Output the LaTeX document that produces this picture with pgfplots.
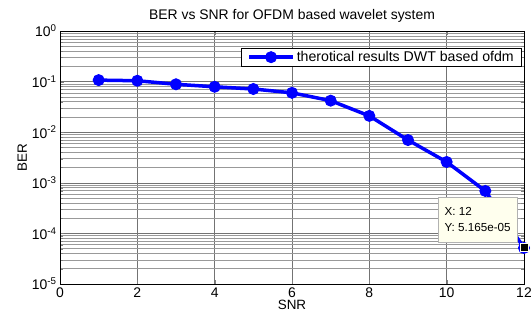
\documentclass[border=0pt]{standalone}
\usepackage{pgfplots}
\pgfplotsset{compat=1.18}
\usepackage{fontspec}
\setmainfont{Liberation Sans}
\definecolor{tipbg}{RGB}{255,255,238}
\begin{document}
\begin{tikzpicture}
\begin{axis}[
  at={(60bp,42bp)}, anchor=south west,
  scale only axis, width=464bp, height=253bp,
  ymode=log,
  xmin=0, xmax=12, ymin=1e-5, ymax=1,
  xtick={0,2,4,6,8,10,12},
  xticklabels={0,2,4,6,8,10,12},
  ytick={1e-5,1e-4,1e-3,1e-2,1e-1,1},
  yticklabels={10\textsuperscript{-5},10\textsuperscript{-4},10\textsuperscript{-3},10\textsuperscript{-2},10\textsuperscript{-1},10\textsuperscript{0}},
  tick label style={font=\fontsize{14}{16}\selectfont},
  label style={font=\fontsize{13.5}{15}\selectfont},
  title style={font=\fontsize{14}{16}\selectfont, yshift=-1bp},
  title={BER vs SNR for OFDM based wavelet system},
  xlabel={SNR}, ylabel={BER},
  xlabel style={yshift=4bp},
  ylabel style={yshift=-2bp},
  grid=both,
  major grid style={black!55, line width=0.6pt},
  minor grid style={black!40, line width=0.55pt},
  tick align=inside,
  legend style={at={(0.996,0.933)}, anchor=north east, draw=black, line width=0.7pt,
    font=\fontsize{14.2}{16}\selectfont, inner xsep=6bp, inner ysep=1bp, row sep=0pt},
  legend cell align=left,
  legend image code/.code={%
    \draw[#1, mark=none] (0bp,0bp) -- (44bp,0bp);
    \draw[#1, only marks] plot coordinates {(22bp,0bp)};},
]
\addplot[color=blue, line width=3.5bp, mark=*, mark size=5.5bp, mark options={fill=blue, line width=1pt}]
 coordinates {
 (1,0.107) (2,0.104) (3,0.0885) (4,0.079) (5,0.0714) (6,0.060)
 (7,0.042) (8,0.021) (9,0.0070) (10,0.00258) (11,0.00069) (12,5.165e-5)
 };
\addlegendentry{therotical results DWT based ofdm}
\addplot[only marks, mark=square*, mark size=4bp, mark options={fill=black, draw=tipbg, line width=1pt}, forget plot]
 coordinates {(12,5.165e-5)};
\coordinate (tip) at (rel axis cs:0.90,0.255);
\end{axis}
\node[draw=black!30, fill=tipbg, line width=0.5pt, minimum width=79bp, minimum height=45bp,
  align=left, inner sep=3bp, font=\fontsize{11.7}{16}\selectfont, anchor=center]
  at (tip) {X: 12\\Y: 5.165e-05};
\pgfresetboundingbox
\path[use as bounding box] (0,0) rectangle (531bp,326bp);
\end{tikzpicture}
\end{document}
